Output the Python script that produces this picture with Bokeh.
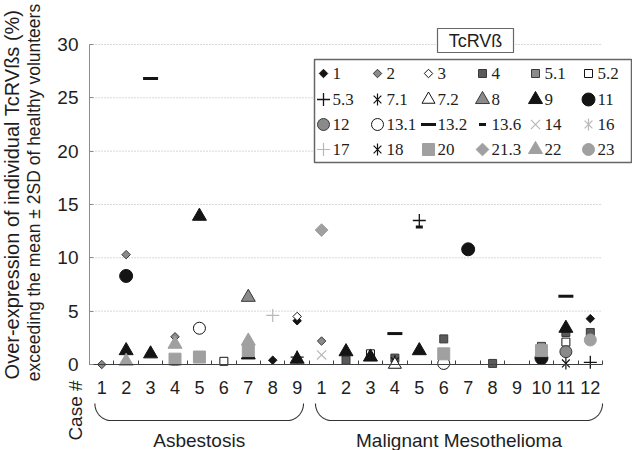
import numpy as np
from bokeh.plotting import figure
from bokeh.models import Range1d, LinearAxis, FixedTicker, Label, ColumnDataSource
from bokeh.embed import file_html
from bokeh.resources import INLINE

# ---------------- data ----------------
asb_cases = ["1", "2", "3", "4", "5", "6", "7", "8", "9"]
mm_cases = ["1", "2", "3", "4", "5", "6", "7", "8", "9", "10", "11", "12"]
group_names = ["Asbestosis", "Malignant Mesothelioma"]
y_ticks = [0, 5, 10, 15, 20, 25, 30]
tcr_names = ["1", "2", "3", "4", "5.1", "5.2", "5.3", "7.1", "7.2", "8", "9", "11",
             "12", "13.1", "13.2", "13.6", "14", "16", "17", "18", "20", "21.3", "22", "23"]

# case ids: A# = asbestosis case, M# = malignant mesothelioma case ; values in %
v1_case = ["A8", "A9", "M12"];                 v1_val = [0.4, 4.1, 4.3]
v2_case = ["A1", "A2", "A4", "M1"];            v2_val = [0.0, 10.3, 2.6, 2.2]
v3_case = ["A9"];                              v3_val = [4.5]
v4_case = ["M2", "M4", "M6", "M8", "M11", "M12"]; v4_val = [0.4, 0.6, 2.4, 0.1, 3.0, 3.0]
v5_1_case = ["M10"];                           v5_1_val = [1.7]
v5_2_case = ["A6", "M3", "M11"];               v5_2_val = [0.3, 1.0, 2.1]
v5_3_case = ["A9", "M5", "M12"];               v5_3_val = [0.7, 13.5, 0.2]
v7_1_case = ["M4"];                            v7_1_val = [0.3]
v7_2_case = ["M4"];                            v7_2_val = [0.0]
v8_case = ["A7"];                              v8_val = [6.3]
v9_case = ["A2", "A3", "A5", "A7", "A9", "M2", "M3", "M5", "M11"]
v9_val = [1.3, 1.0, 13.9, 0.9, 0.5, 1.2, 0.7, 1.3, 3.4]
v11_case = ["A2", "M7", "M10"];                v11_val = [8.3, 10.8, 0.6]
v12_case = ["M11"];                            v12_val = [1.2]
v13_1_case = ["A5", "M6"];                     v13_1_val = [3.4, 0.1]
v13_2_case = ["A3", "M4", "M11"];              v13_2_val = [26.8, 2.9, 6.4]
v13_6_case = ["A4", "M5"];                     v13_6_val = [0.0, 12.9]
v14_case = ["M1"];                             v14_val = [0.9]
v16_case = [];                                 v16_val = []
v17_case = ["A8"];                             v17_val = [4.6]
v18_case = ["M11"];                            v18_val = [0.1]
v20_case = ["A4", "A5", "A7", "M6", "M10"];    v20_val = [0.5, 0.7, 1.3, 1.0, 1.3]
v21_3_case = ["M1"];                           v21_3_val = [12.6]
v22_case = ["A2", "A4", "A7"];                 v22_val = [0.3, 1.9, 2.2]
v23_case = ["M12"];                            v23_val = [2.3]

series = {
    "1": (v1_case, v1_val), "2": (v2_case, v2_val), "3": (v3_case, v3_val),
    "4": (v4_case, v4_val), "5.1": (v5_1_case, v5_1_val), "5.2": (v5_2_case, v5_2_val),
    "5.3": (v5_3_case, v5_3_val), "7.1": (v7_1_case, v7_1_val), "7.2": (v7_2_case, v7_2_val),
    "8": (v8_case, v8_val), "9": (v9_case, v9_val), "11": (v11_case, v11_val),
    "12": (v12_case, v12_val), "13.1": (v13_1_case, v13_1_val), "13.2": (v13_2_case, v13_2_val),
    "13.6": (v13_6_case, v13_6_val), "14": (v14_case, v14_val), "16": (v16_case, v16_val),
    "17": (v17_case, v17_val), "18": (v18_case, v18_val), "20": (v20_case, v20_val),
    "21.3": (v21_3_case, v21_3_val), "22": (v22_case, v22_val), "23": (v23_case, v23_val),
}

case_ids = ["A" + c for c in asb_cases] + ["M" + c for c in mm_cases]
case_labels = asb_cases + mm_cases
case_pos = {cid: i + 1 for i, cid in enumerate(case_ids)}
n_cases = len(case_ids)

# ---------------- layout (canvas px) ----------------
W, H = 632, 450
AXIS_PX = 89          # canvas x of the y axis
PX_X = 24.43          # px per case
Y0_PX = 364           # canvas y of value 0
PX_Y = 10.667         # px per 1 %
x_lo, x_hi = 0.5, n_cases + 0.5


def dx(px):
    return x_lo + (px - AXIS_PX) / PX_X


def dy(py):
    return (Y0_PX - py) / PX_Y


FONT = "Liberation Sans"
TXT = "#1e1e1e"

p = figure(width=W, height=H, output_backend="svg", toolbar_location=None,
           x_axis_type=None, y_axis_type=None,
           x_range=Range1d(dx(0), dx(W)), y_range=Range1d(dy(H), dy(0)),
           min_border_left=0, min_border_right=0, min_border_top=0, min_border_bottom=0)
p.outline_line_color = None
p.background_fill_color = "white"
p.border_fill_color = "white"

# y axis, placed at the first case boundary
ya = LinearAxis(fixed_location=x_lo, ticker=FixedTicker(ticks=y_ticks))
ya.bounds = (y_ticks[0], y_ticks[-1])
ya.axis_line_color = "#8c8c8c"
ya.major_tick_line_color = "#8c8c8c"
ya.major_tick_in = 4
ya.major_tick_out = 0
ya.minor_tick_line_color = None
ya.major_label_standoff = 11
ya.major_label_text_font = FONT
ya.major_label_text_font_size = "19px"
ya.major_label_text_color = TXT
p.add_layout(ya, "left")

# gridlines (dotted) stopping at the last case
gy = y_ticks[1:]
p.segment(x0=[x_lo] * len(gy), x1=[x_hi] * len(gy), y0=gy, y1=gy,
          line_color="#b0b0b0", line_width=1, line_dash="1 2")

# x axis line with ticks between cases
xa_ticks = LinearAxis(fixed_location=0, ticker=FixedTicker(ticks=[i + 0.5 for i in range(n_cases + 1)]))
xa_ticks.bounds = (x_lo, x_hi)
xa_ticks.axis_line_color = "#404040"
xa_ticks.major_tick_line_color = "#404040"
xa_ticks.major_tick_in = 4
xa_ticks.major_tick_out = 0
xa_ticks.minor_tick_line_color = None
xa_ticks.major_label_text_alpha = 0
p.add_layout(xa_ticks, "below")

# case-number labels
xa_lab = LinearAxis(fixed_location=0, ticker=FixedTicker(ticks=list(range(1, n_cases + 1))))
xa_lab.major_label_overrides = {i + 1: lab for i, lab in enumerate(case_labels)}
xa_lab.axis_line_color = None
xa_lab.major_tick_line_color = None
xa_lab.minor_tick_line_color = None
xa_lab.major_label_standoff = 10
xa_lab.major_label_text_font = FONT
xa_lab.major_label_text_font_size = "18px"
xa_lab.major_label_text_color = TXT
p.add_layout(xa_lab, "below")

# ---------------- marker styles ----------------
BLK = "#141414"; MID = "#8a8a8a"; DRK = "#5a5a5a"; GRY = "#a0a0a0"; LGT = "#b8b8b8"; OUT = "#3a3a3a"
D45 = np.pi / 4
V90 = np.pi / 2
styles = {
    "1": [dict(marker="square", size=6, angle=D45, fill_color=BLK, line_color=BLK)],
    "2": [dict(marker="square", size=6, angle=D45, fill_color=MID, line_color=OUT)],
    "3": [dict(marker="square", size=6, angle=D45, fill_color="white", line_color=BLK)],
    "4": [dict(marker="square", size=8, fill_color=DRK, line_color=OUT)],
    "5.1": [dict(marker="square", size=8, fill_color=MID, line_color=OUT)],
    "5.2": [dict(marker="square", size=8, fill_color="white", line_color=BLK)],
    "5.3": [dict(marker="cross", size=13, line_color=BLK, line_width=1.3)],
    "7.1": [dict(marker="x", size=11, line_color=BLK, line_width=1.2),
            dict(marker="dash", size=12, angle=V90, line_color=BLK, line_width=1.2)],
    "7.2": [dict(marker="triangle", size=13, fill_color="white", line_color=BLK)],
    "8": [dict(marker="triangle", size=14, fill_color=MID, line_color=OUT)],
    "9": [dict(marker="triangle", size=14, fill_color=BLK, line_color=BLK)],
    "11": [dict(marker="circle", size=13, fill_color=BLK, line_color=BLK)],
    "12": [dict(marker="circle", size=12, fill_color=MID, line_color=OUT)],
    "13.1": [dict(marker="circle", size=12, fill_color="white", line_color=BLK)],
    "13.2": [dict(marker="dash", size=15, line_color=BLK, line_width=3)],
    "13.6": [dict(marker="dash", size=7, line_color=BLK, line_width=3)],
    "14": [dict(marker="x", size=13, line_color=LGT, line_width=1.2)],
    "16": [dict(marker="x", size=11, line_color=LGT, line_width=1.2),
           dict(marker="dash", size=12, angle=V90, line_color=LGT, line_width=1.2)],
    "17": [dict(marker="cross", size=13, line_color=LGT, line_width=1.2)],
    "18": [dict(marker="x", size=11, line_color=BLK, line_width=1.2),
           dict(marker="dash", size=12, angle=V90, line_color=BLK, line_width=1.2)],
    "20": [dict(marker="square", size=12, fill_color=GRY, line_color=GRY)],
    "21.3": [dict(marker="square", size=9, angle=D45, fill_color=GRY, line_color=GRY)],
    "22": [dict(marker="triangle", size=14, fill_color=GRY, line_color=GRY)],
    "23": [dict(marker="circle", size=12, fill_color=GRY, line_color=GRY)],
}

# data points
for name in tcr_names:
    cases, vals = series[name]
    if not cases:
        continue
    src = ColumnDataSource(dict(x=[case_pos[c] for c in cases], y=vals))
    for st in styles[name]:
        p.scatter(x="x", y="y", source=src, **st)

# ---------------- legend ----------------
LEG_L, LEG_R, LEG_T, LEG_B = 314, 631, 59, 162
p.quad(left=[dx(LEG_L)], right=[dx(LEG_R)], top=[dy(LEG_T)], bottom=[dy(LEG_B)],
       fill_color="white", line_color="#666666", line_width=1.5)
TB_L, TB_R, TB_T, TB_B = 437, 513, 28, 52
p.quad(left=[dx(TB_L)], right=[dx(TB_R)], top=[dy(TB_T)], bottom=[dy(TB_B)],
       fill_color="white", line_color="#666666", line_width=1.2)
p.add_layout(Label(x=dx((TB_L + TB_R) / 2), y=dy((TB_T + TB_B) / 2), text="TcRVß",
                   text_font=FONT, text_font_size="18px", text_color=TXT,
                   text_align="center", text_baseline="middle"))

LEG_COLS = [323, 377, 428, 482, 535, 588]
LEG_ROWS = [73, 99, 124, 149]
lt_x, lt_y, lt_t = [], [], []
for k, name in enumerate(tcr_names):
    r, c = divmod(k, len(LEG_COLS))
    mx, my = dx(LEG_COLS[c]), dy(LEG_ROWS[r])
    for st in styles[name]:
        p.scatter(x=[mx], y=[my], **st)
    lt_x.append(dx(LEG_COLS[c] + 9))
    lt_y.append(my)
    lt_t.append(name)
p.text(x=lt_x, y=lt_y, text=lt_t, text_font=FONT, text_font_size="17px",
       text_color=TXT, text_align="left", text_baseline="middle")

# ---------------- group brackets and labels ----------------
def bracket(xl, xr, top, bot, rx):
    ry = bot - top
    t1 = np.linspace(np.pi, np.pi / 2, 24)
    t2 = np.linspace(np.pi / 2, 0, 24)
    xs = np.concatenate([xl + rx + rx * np.cos(t1), xr - rx + rx * np.cos(t2)])
    ys = np.concatenate([top + ry * np.sin(t1), top + ry * np.sin(t2)])
    return [dx(v) for v in xs], [dy(v) for v in ys]


n_asb = len(asb_cases)
groups = [(1, n_asb, -0.28, 0.26), (n_asb + 1, n_cases, -0.25, 0.5)]
BR_TOP, BR_BOT = 403, 420
for (first, last, pad_l, pad_r), gname in zip(groups, group_names):
    xl_px = AXIS_PX + (first + pad_l - x_lo) * PX_X
    xr_px = AXIS_PX + (last + pad_r - x_lo) * PX_X
    bx, by = bracket(xl_px, xr_px, BR_TOP, BR_BOT, 16)
    p.line(bx, by, line_color="#333333", line_width=1.1)
    p.add_layout(Label(x=dx((xl_px + xr_px) / 2), y=dy(440), text=gname,
                       text_font=FONT, text_font_size="19px", text_color=TXT,
                       text_align="center", text_baseline="middle"))

p.add_layout(Label(x=dx(75), y=dy(410), text="Case #", angle=np.pi / 2,
                   text_font=FONT, text_font_size="19px", text_color=TXT,
                   text_align="center", text_baseline="middle"))

# ---------------- y title (two lines) ----------------
p.add_layout(Label(x=dx(11), y=dy(194), text="Over-expression of individual TcRVßs (%)",
                   angle=np.pi / 2, text_font=FONT, text_font_size="20px", text_color=TXT,
                   text_align="center", text_baseline="middle"))
p.add_layout(Label(x=dx(33), y=dy(192), text="exceeding the mean \u00b1 2SD of healthy volunteers",
                   angle=np.pi / 2, text_font=FONT, text_font_size="17.5px", text_color=TXT,
                   text_align="center", text_baseline="middle"))

open("out.html", "w").write(file_html(p, INLINE))
